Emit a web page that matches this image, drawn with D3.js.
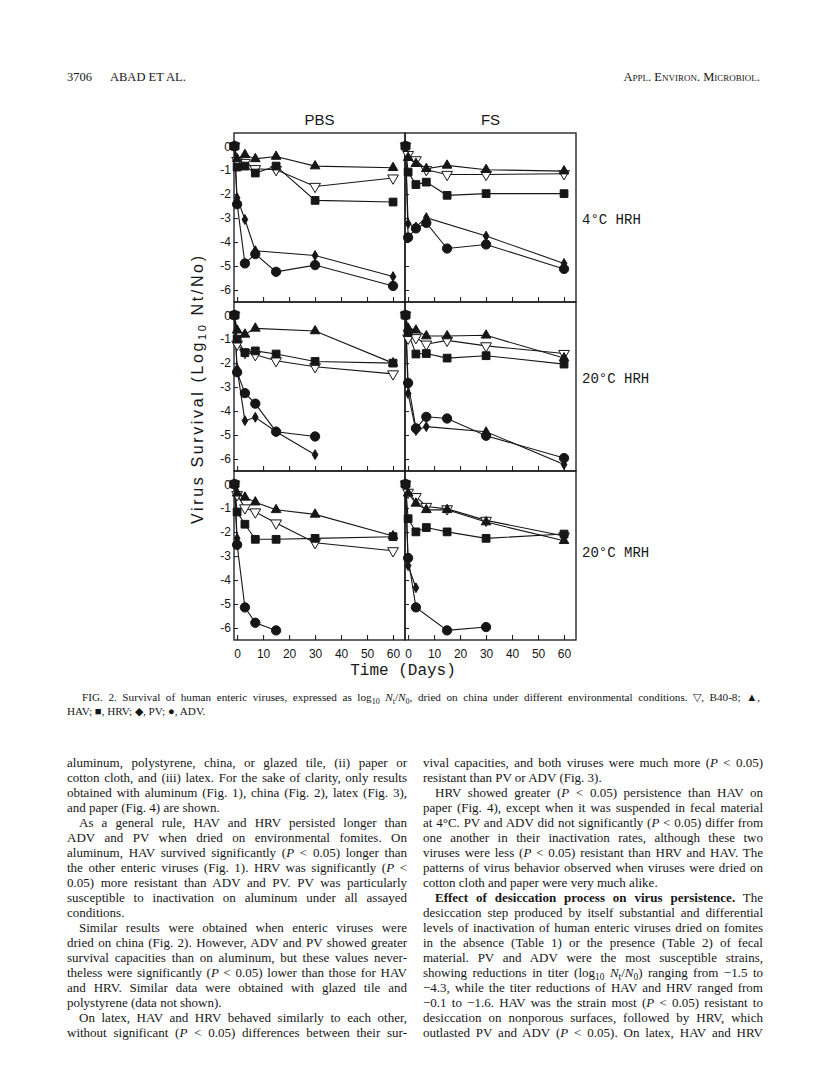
<!DOCTYPE html>
<html>
<head>
<meta charset="utf-8">
<script src="https://cdn.jsdelivr.net/npm/d3@7"></script>
<style>
  body { margin: 0; background: #fff; }
  svg { display: block; }
</style>
</head>
<body>
<script>
//-----------------Data----------------

// day -1 = titre before drying (drawn on the axis line)
const days = [-1, 0, 3, 7, 15, 30, 60];
const viruses = ["B40-8", "HAV", "HRV", "PV", "ADV"];
const media = ["PBS", "FS"];
const conditions = ["4°C HRH", "20°C HRH", "20°C MRH"];
const dayTicks = [0, 10, 20, 30, 40, 50, 60];
const logTicks = [0, -1, -2, -3, -4, -5, -6];

// log10 Nt/No, one row per virus (same order as viruses)
const pbs4 = [
  [0, -0.6, -0.68, -0.94, -0.98, -1.68, -1.33],
  [0, -0.53, -0.36, -0.53, -0.43, -0.83, -0.9],
  [0, -0.87, -0.83, -1.12, -0.83, -2.26, -2.33],
  [0, -2.16, -3.06, -4.36, null, -4.56, -5.44],
  [0, -2.42, -4.89, -4.5, -5.24, -4.96, -5.83]
];
const fs4 = [
  [0, -0.35, -0.57, -0.98, -1.18, -1.18, -1.15],
  [0, -0.48, -0.73, -0.94, -0.8, -0.98, -1.04],
  [0, -1.08, -1.6, -1.5, -2.05, -1.98, -1.98],
  [0, -3.23, -3.37, -2.98, null, -3.75, -4.89],
  [0, -3.81, -3.43, -3.2, -4.27, -4.1, -5.12]
];
const pbs20h = [
  [0, -1.21, -1.56, -1.65, -1.9, -2.15, -2.45],
  [0, -0.63, -0.8, -0.55, null, -0.66, -2.0],
  [0, -1.0, -1.56, -1.49, -1.62, -1.93, -2.0],
  [0, -2.24, -4.4, -4.26, -4.86, -5.82, null],
  [0, -2.38, -3.25, -3.69, -4.86, -5.06, null]
];
const fs20h = [
  [0, -0.96, -0.94, -1.21, -1.05, -1.28, -1.6],
  [0, -0.55, -0.63, -0.87, -0.87, -0.84, -1.79],
  [0, -0.73, -1.62, -1.6, -1.79, -1.69, -2.04],
  [0, -3.27, -4.81, -4.65, null, -4.86, -6.23],
  [0, -2.83, -4.72, -4.24, -4.31, -5.03, -5.96]
];
const pbs20m = [
  [0, -0.44, -0.99, -1.16, -1.62, -2.44, -2.78],
  [0, -0.38, -0.55, -0.75, -1.07, -1.26, -2.16],
  [0, -1.16, -1.67, -2.3, -2.3, -2.26, -2.19],
  [0, -2.26, null, null, null, null, null],
  [0, -2.53, -5.14, -5.78, -6.1, null, null]
];
const fs20m = [
  [0, -0.34, -0.52, -0.93, -1.03, -1.51, -2.16],
  [0, -0.38, -0.8, -1.07, -1.07, -1.58, -2.36],
  [0, -1.44, -1.99, -1.81, -1.99, -2.26, -2.08],
  [0, -3.4, -4.32, null, null, null, null],
  [0, -3.08, -5.14, null, -6.1, -5.96, null]
];
const panels = [[pbs4, fs4], [pbs20h, fs20h], [pbs20m, fs20m]];

//-----------------Page text----------------

const captionLines = [
  "FIG. 2. Survival of human enteric viruses, expressed as log_{10} *N*_{t}/*N*_{0}, dried on china under different environmental conditions. ▽, B40-8; ▲,",
  "HAV; ■, HRV; ◆, PV; ●, ADV.|"
];
const leftCol = [
  "aluminum, polystyrene, china, or glazed tile, (ii) paper or",
  "cotton cloth, and (iii) latex. For the sake of clarity, only results",
  "obtained with aluminum (Fig. 1), china (Fig. 2), latex (Fig. 3),",
  "and paper (Fig. 4) are shown.|",
  ">As a general rule, HAV and HRV persisted longer than",
  "ADV and PV when dried on environmental fomites. On",
  "aluminum, HAV survived significantly (*P* < 0.05) longer than",
  "the other enteric viruses (Fig. 1). HRV was significantly (*P* <",
  "0.05) more resistant than ADV and PV. PV was particularly",
  "susceptible to inactivation on aluminum under all assayed",
  "conditions.|",
  ">Similar results were obtained when enteric viruses were",
  "dried on china (Fig. 2). However, ADV and PV showed greater",
  "survival capacities than on aluminum, but these values never-",
  "theless were significantly (*P* < 0.05) lower than those for HAV",
  "and HRV. Similar data were obtained with glazed tile and",
  "polystyrene (data not shown).|",
  ">On latex, HAV and HRV behaved similarly to each other,",
  "without significant (*P* < 0.05) differences between their sur-"
];
const rightCol = [
  "vival capacities, and both viruses were much more (*P* < 0.05)",
  "resistant than PV or ADV (Fig. 3).|",
  ">HRV showed greater (*P* < 0.05) persistence than HAV on",
  "paper (Fig. 4), except when it was suspended in fecal material",
  "at 4°C. PV and ADV did not significantly (*P* < 0.05) differ from",
  "one another in their inactivation rates, although these two",
  "viruses were less (*P* < 0.05) resistant than HRV and HAV. The",
  "patterns of virus behavior observed when viruses were dried on",
  "cotton cloth and paper were very much alike.|",
  ">**Effect of desiccation process on virus persistence.** The",
  "desiccation step produced by itself substantial and differential",
  "levels of inactivation of human enteric viruses dried on fomites",
  "in the absence (Table 1) or the presence (Table 2) of fecal",
  "material. PV and ADV were the most susceptible strains,",
  "showing reductions in titer (log_{10} *N*_{t}/*N*_{0}) ranging from −1.5 to",
  "−4.3, while the titer reductions of HAV and HRV ranged from",
  "−0.1 to −1.6. HAV was the strain most (*P* < 0.05) resistant to",
  "desiccation on nonporous surfaces, followed by HRV, which",
  "outlasted PV and ADV (*P* < 0.05). On latex, HAV and HRV"
];

//-----------------Main svg----------------

const width = 816;
const height = 1092;
const ink = "#161616";
const serif = "'Liberation Serif', 'Times New Roman', serif";
const sans = "'Liberation Sans', Arial, sans-serif";
const mono = "'Liberation Mono', 'Courier New', monospace";

const svg = d3.select("body").append("svg")
  .attr("width", width).attr("height", height)
  .style("background", "#fff");

//-----------------Header----------------

const header = svg.append("g").attr("font-family", serif).attr("font-size", 12.5).attr("fill", ink);
header.append("text").attr("x", 67).attr("y", 81).text("3706");
header.append("text").attr("x", 110).attr("y", 81).text("ABAD ET AL.");
header.append("text").attr("x", 760).attr("y", 81).attr("text-anchor", "end")
  .style("font-variant", "small-caps").text("Appl. Environ. Microbiol.");

//-----------------Panels----------------

const colX = [234, 405];
const rowY = [133, 302, 471];
const panelW = 171;
const panelH = 169;

const shapes = [
  { type: d3.symbolTriangle, size: 50, rotate: 180, fill: "#fff" },
  { type: d3.symbolTriangle, size: 40, rotate: 0, fill: ink },
  { type: d3.symbolSquare, size: 60, rotate: 0, fill: ink },
  { type: d3.symbolDiamond, size: 28, rotate: 0, fill: ink },
  { type: d3.symbolCircle, size: 68, rotate: 0, fill: ink }
];

const line = d3.line().x((d) => d.x).y((d) => d.y);

panels.forEach((row, ri) => {
  row.forEach((series, ci) => {
    const xScale = d3.scaleLinear().domain([-1.2, 64.6]).range([colX[ci], colX[ci] + panelW]);
    const yScale = d3.scaleLinear().domain([0.55, -6.5]).range([rowY[ri], rowY[ri] + panelH]);
    const g = svg.append("g");

    // frame
    g.append("rect")
      .attr("x", colX[ci]).attr("y", rowY[ri])
      .attr("width", panelW).attr("height", panelH)
      .attr("fill", "none").attr("stroke", ink).attr("stroke-width", 1.3);

    // y axis (inner ticks, labels only on PBS column)
    const yAxis = d3.axisLeft(yScale).tickValues(logTicks)
      .tickSizeInner(-4).tickSizeOuter(0).tickPadding(3)
      .tickFormat((d) => (ci === 0 ? String(d) : ""));
    const ya = g.append("g").attr("transform", "translate(" + colX[ci] + ",0)").call(yAxis);
    ya.select(".domain").remove();
    ya.selectAll("line").attr("stroke", ink);
    ya.selectAll("text").attr("font-family", sans).attr("font-size", 12).attr("fill", ink);

    // x axis (inner ticks, labels only on bottom row)
    const xAxis = d3.axisBottom(xScale).tickValues(dayTicks)
      .tickSizeInner(-5).tickSizeOuter(0).tickPadding(9)
      .tickFormat((d) => (ri === rowY.length - 1 ? d : ""));
    const xa = g.append("g").attr("transform", "translate(0," + (rowY[ri] + panelH) + ")").call(xAxis);
    xa.select(".domain").remove();
    xa.selectAll("line").attr("stroke", ink);
    xa.selectAll("text").attr("font-family", sans).attr("font-size", 12).attr("fill", ink);

    const pts = series.map((vals) =>
      vals.map((v, i) => ({ day: days[i], v: v }))
        .filter((d) => d.v !== null)
        .map((d) => ({ x: xScale(d.day), y: yScale(d.v) }))
    );

    // lines first, markers on top
    pts.forEach((p) => {
      g.append("path").attr("d", line(p))
        .attr("fill", "none").attr("stroke", ink).attr("stroke-width", 1.1);
    });
    pts.forEach((p, vi) => {
      const s = shapes[vi];
      g.selectAll(null).data(p).enter().append("path")
        .attr("class", "mark " + viruses[vi])
        .attr("d", d3.symbol().type(s.type).size(s.size))
        .attr("transform", (d) => "translate(" + d.x + "," + d.y + ") rotate(" + s.rotate + ")")
        .attr("fill", s.fill).attr("stroke", ink).attr("stroke-width", 1);
    });
  });
});

//-----------------Panel labels----------------

media.forEach((m, ci) => {
  svg.append("text")
    .attr("x", colX[ci] + panelW / 2).attr("y", 125)
    .attr("text-anchor", "middle")
    .attr("font-family", sans).attr("font-size", 15).attr("fill", ink)
    .text(m);
});

const rowLabelDy = [91, 81, 86];
conditions.forEach((c, ri) => {
  svg.append("text")
    .attr("x", 582).attr("y", rowY[ri] + rowLabelDy[ri])
    .attr("font-family", mono).attr("font-size", 14).attr("fill", ink)
    .text(c);
});

svg.append("text")
  .attr("x", 403).attr("y", 675)
  .attr("text-anchor", "middle")
  .attr("font-family", mono).attr("font-size", 16).attr("fill", ink)
  .text("Time (Days)");

const yTitle = svg.append("text")
  .attr("transform", "translate(203,390) rotate(-90)")
  .attr("text-anchor", "middle")
  .attr("font-family", sans).attr("font-size", 16).attr("fill", ink)
  .attr("textLength", 268).attr("lengthAdjust", "spacing");
yTitle.append("tspan").text("Virus Survival (Log");
yTitle.append("tspan").attr("font-size", 11).attr("dy", 3).text("10");
yTitle.append("tspan").attr("dy", -3).text(" Nt/No)");

//-----------------Text helpers----------------

// *italic*, **bold**, _{sub}; leading ">" = indent, trailing "|" = not justified
function writeLine(parent, raw, x, y, colW, size) {
  let s = raw;
  let indent = 0;
  let justify = true;
  if (s.startsWith(">")) { s = s.slice(1); indent = 12; }
  if (s.endsWith("|")) { s = s.slice(0, -1); justify = false; }
  const t = parent.append("text").attr("x", x + indent).attr("y", y)
    .attr("font-family", serif).attr("font-size", size).attr("fill", ink);
  let shifted = false;
  s.split(/(\*\*[^*]+\*\*|\*[^*]+\*|_\{[^}]+\})/).forEach((tok) => {
    if (!tok) return;
    const sp = t.append("tspan");
    if (shifted) { sp.attr("dy", -3); shifted = false; }
    if (tok.startsWith("**")) {
      sp.attr("font-weight", "bold").text(tok.slice(2, -2));
    } else if (tok.startsWith("*")) {
      sp.attr("font-style", "italic").text(tok.slice(1, -1));
    } else if (tok.startsWith("_{")) {
      sp.attr("font-size", size * 0.72).attr("dy", 3).text(tok.slice(2, -1));
      shifted = true;
    } else {
      sp.text(tok);
    }
  });
  if (justify) {
    const node = t.node();
    const len = node.getComputedTextLength();
    const gaps = (node.textContent.match(/ /g) || []).length;
    if (gaps) t.attr("word-spacing", (colW - indent - len) / gaps);
  }
}

//-----------------Caption----------------

const cap = svg.append("g");
writeLine(cap, captionLines[0], 82, 701, 678, 11.2);
writeLine(cap, captionLines[1], 67, 715, 693, 11.2);

//-----------------Body text----------------

const body = svg.append("g");
leftCol.forEach((l, i) => writeLine(body, l, 67, 767 + i * 15, 340, 13));
rightCol.forEach((l, i) => writeLine(body, l, 423, 767 + i * 15, 340, 13));
</script>
</body>
</html>
